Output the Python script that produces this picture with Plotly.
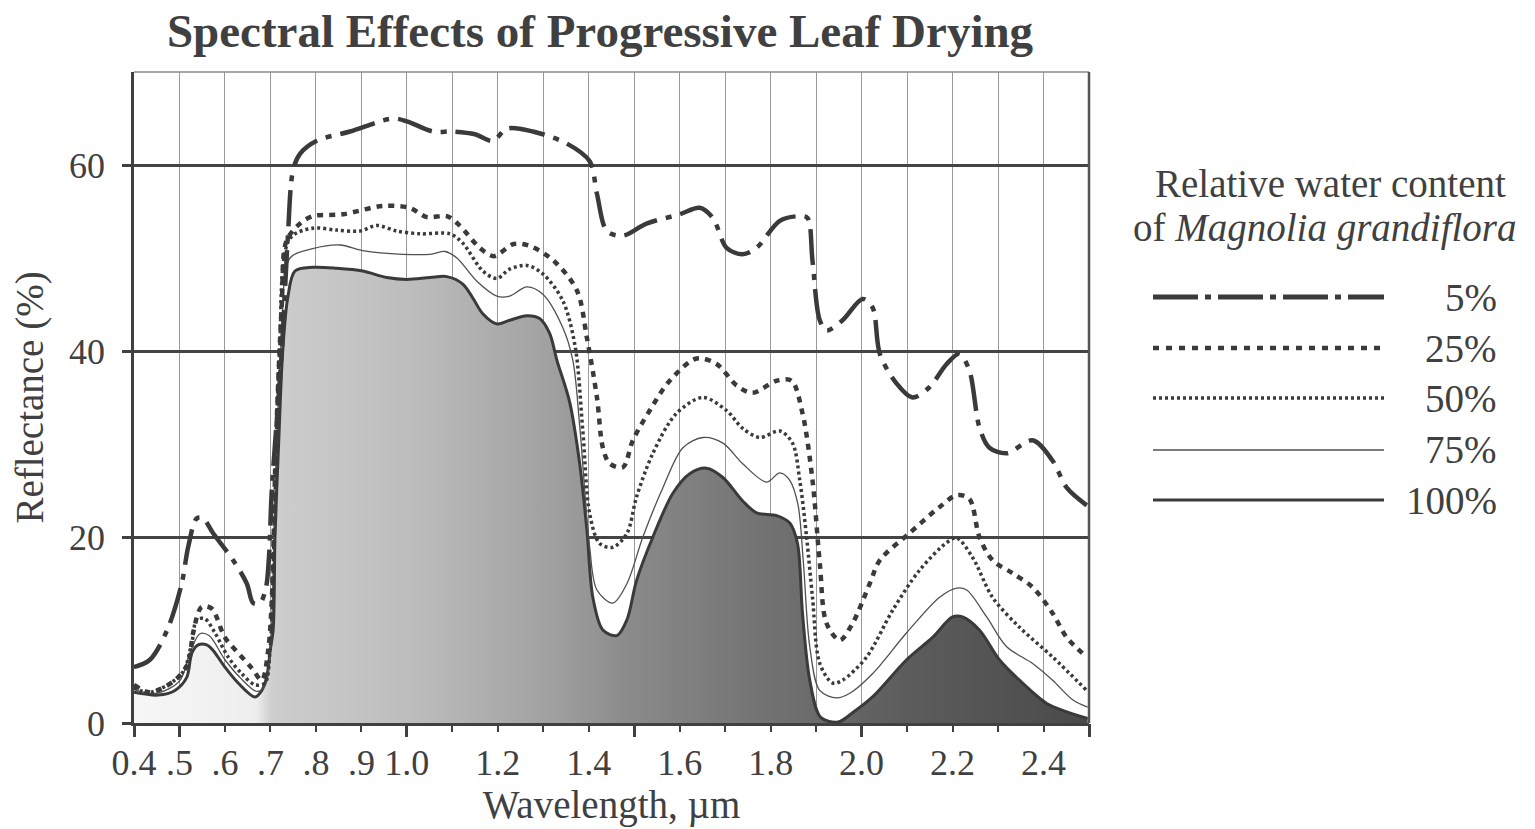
import plotly.graph_objects as go

# ---------------- data ----------------
x5 = [0.400, 0.435, 0.473, 0.505, 0.519, 0.538, 0.552, 0.574, 0.618, 0.648, 0.662, 0.677,
      0.690, 0.697, 0.703, 0.725, 0.738, 0.750, 0.765, 0.802, 0.875, 0.969, 1.000, 1.057,
      1.101, 1.150, 1.189, 1.220, 1.277, 1.352, 1.402, 1.418, 1.440, 1.475, 1.527, 1.600,
      1.644, 1.673, 1.703, 1.738, 1.769, 1.820, 1.864, 1.881, 1.892, 1.908, 1.923, 1.958,
      2.002, 2.024, 2.040, 2.077, 2.112, 2.149, 2.187, 2.215, 2.237, 2.259, 2.281, 2.319,
      2.376, 2.420, 2.451, 2.495]
y5 = [6.0, 6.8, 10.0, 15.0, 18.9, 22.0, 22.0, 20.4, 17.5, 15.0, 12.9, 12.9,
      14.5, 18.0, 25.0, 40.0, 52.0, 59.5, 61.2, 62.6, 63.6, 65.0, 64.7, 63.6,
      63.6, 63.3, 62.6, 63.9, 63.6, 62.3, 60.4, 56.9, 52.9, 52.4, 53.7, 54.7,
      55.4, 54.3, 51.1, 50.4, 51.1, 54.0, 54.5, 54.3, 49.7, 43.3, 42.2, 43.3,
      45.6, 44.7, 39.7, 36.5, 35.0, 36.1, 38.6, 39.7, 37.9, 31.8, 29.6, 29.0,
      30.4, 28.2, 25.3, 23.4]

x25 = [0.400, 0.435, 0.490, 0.519, 0.530, 0.549, 0.571, 0.600, 0.637, 0.659, 0.681, 0.695,
       0.703, 0.712, 0.725, 0.735, 0.765, 0.793, 0.859, 0.947, 1.006, 1.044, 1.088, 1.116,
       1.160, 1.191, 1.235, 1.270, 1.323, 1.374, 1.396, 1.418, 1.431, 1.446, 1.475, 1.497,
       1.534, 1.578, 1.637, 1.681, 1.725, 1.760, 1.813, 1.846, 1.870, 1.892, 1.908, 1.923,
       1.952, 1.980, 2.018, 2.040, 2.105, 2.171, 2.209, 2.237, 2.259, 2.288, 2.332, 2.376,
       2.420, 2.451, 2.495]
y25 = [4.1, 3.3, 4.6, 6.4, 9.7, 12.5, 12.3, 9.2, 7.1, 5.9, 4.6, 7.8,
       13.2, 30.0, 45.0, 51.8, 53.7, 54.5, 54.7, 55.6, 55.4, 54.4, 54.5, 53.5,
       51.1, 50.2, 51.5, 51.3, 49.7, 46.5, 41.4, 35.0, 29.6, 27.9, 27.5, 30.4,
       33.6, 36.8, 39.2, 38.6, 36.3, 35.5, 36.8, 36.8, 33.3, 26.1, 17.2, 10.7,
       8.9, 10.7, 15.0, 17.5, 20.4, 23.2, 24.5, 24.1, 20.0, 17.5, 16.1, 14.6,
       11.8, 9.2, 7.1]

x50 = [0.400, 0.435, 0.505, 0.527, 0.538, 0.556, 0.578, 0.607, 0.637, 0.666, 0.688, 0.699,
       0.708, 0.720, 0.743, 0.793, 0.846, 0.897, 0.934, 0.978, 1.029, 1.095, 1.123, 1.167,
       1.198, 1.226, 1.264, 1.299, 1.343, 1.370, 1.387, 1.402, 1.424, 1.453, 1.484, 1.505,
       1.541, 1.593, 1.651, 1.703, 1.738, 1.776, 1.820, 1.848, 1.864, 1.879, 1.892, 1.908,
       1.936, 1.958, 2.011, 2.068, 2.127, 2.187, 2.209, 2.244, 2.288, 2.347, 2.420, 2.495]
y50 = [3.8, 3.3, 5.3, 8.6, 11.1, 11.2, 9.7, 7.1, 5.3, 4.1, 4.3, 7.8,
       20.0, 40.0, 52.1, 53.2, 53.0, 52.9, 53.5, 52.9, 52.6, 52.6, 51.6, 48.6,
       47.8, 48.8, 49.2, 48.3, 45.4, 40.5, 31.4, 22.5, 19.3, 18.9, 20.4, 24.3,
       29.0, 33.3, 35.0, 33.6, 31.7, 30.7, 31.4, 30.1, 26.1, 20.0, 13.5, 6.4,
       4.3, 4.6, 7.1, 12.1, 16.4, 19.4, 19.9, 17.8, 13.5, 10.3, 7.1, 3.5]

x75 = [0.400, 0.450, 0.500, 0.525, 0.545, 0.565, 0.600, 0.635, 0.670, 0.688, 0.700, 0.710,
       0.725, 0.743, 0.793, 0.853, 0.903, 0.991, 1.051, 1.084, 1.110, 1.154, 1.198, 1.226,
       1.264, 1.299, 1.343, 1.365, 1.380, 1.402, 1.418, 1.453, 1.484, 1.519, 1.563, 1.607,
       1.651, 1.695, 1.738, 1.791, 1.820, 1.842, 1.860, 1.872, 1.886, 1.908, 1.945, 1.974,
       2.024, 2.099, 2.171, 2.209, 2.231, 2.275, 2.319, 2.376, 2.420, 2.464, 2.497]
y75 = [3.6, 3.2, 4.5, 7.8, 9.6, 9.4, 6.8, 4.8, 3.4, 4.0, 8.0, 25.0,
       42.0, 50.0, 51.0, 51.4, 50.8, 50.4, 50.4, 50.7, 50.0, 47.5, 45.9, 45.9,
       46.9, 46.1, 42.5, 39.0, 32.0, 18.9, 14.3, 12.9, 15.0, 20.0, 25.3, 29.6,
       30.7, 30.1, 27.9, 25.9, 26.9, 26.1, 23.5, 17.2, 8.2, 3.5, 2.7, 3.2,
       5.3, 9.7, 13.5, 14.5, 14.3, 11.4, 8.2, 6.4, 4.6, 2.5, 1.7]

x100 = [0.400, 0.453, 0.490, 0.516, 0.527, 0.541, 0.560, 0.574, 0.600, 0.629, 0.666, 0.681,
        0.692, 0.700, 0.706, 0.710, 0.718, 0.727, 0.738, 0.754, 0.793, 0.846, 0.903, 0.956,
        1.000, 1.051, 1.088, 1.123, 1.145, 1.167, 1.198, 1.226, 1.264, 1.292, 1.314, 1.330,
        1.358, 1.380, 1.396, 1.409, 1.431, 1.462, 1.484, 1.505, 1.541, 1.585, 1.622, 1.659,
        1.695, 1.738, 1.769, 1.813, 1.842, 1.859, 1.870, 1.886, 1.910, 1.948, 1.980, 2.024,
        2.099, 2.156, 2.200, 2.222, 2.259, 2.303, 2.347, 2.407, 2.451, 2.497]
y100 = [3.3, 3.0, 3.5, 4.9, 7.5, 8.4, 8.4, 7.8, 6.0, 4.3, 2.8, 3.5,
        5.0, 8.0, 10.0, 20.0, 30.0, 40.0, 45.7, 48.6, 49.0, 48.9, 48.6, 47.9,
        47.7, 47.9, 48.0, 47.2, 45.7, 44.0, 42.9, 43.3, 43.8, 43.5, 41.9, 39.0,
        34.5, 27.9, 20.7, 13.5, 10.0, 9.4, 11.1, 15.3, 20.0, 24.7, 26.8, 27.4,
        26.4, 23.9, 22.6, 22.3, 21.5, 19.3, 11.8, 4.6, 0.6, 0.1, 1.1, 2.8,
        6.8, 9.2, 11.4, 11.4, 10.0, 6.8, 4.6, 2.1, 1.2, 0.5]

series_names = ["5%", "25%", "50%", "75%", "100%"]

x_tickvals = [0.4, 0.5, 0.6, 0.7, 0.8, 0.9, 1.0, 1.1, 1.2, 1.3, 1.4, 1.5, 1.6, 1.7,
              1.8, 1.9, 2.0, 2.1, 2.2, 2.3, 2.4, 2.5]
x_ticktext = ["0.4", ".5", ".6", ".7", ".8", ".9", "1.0", "", "1.2", "", "1.4", "", "1.6", "",
              "1.8", "", "2.0", "", "2.2", "", "2.4", ""]
x_major_ticks = [0.4, 0.5, 1.0, 1.5, 2.0, 2.5]
y_tickvals = [0, 20, 40, 60]

# ---------------- styling ----------------
FONT = "Liberation Serif"
INK = "#404040"
LINE = "#3a3a3a"
SMOOTH = 0.9

fig = go.Figure()

# 100% : filled with a grey gradient
fig.add_trace(go.Scatter(
    x=x100, y=y100, mode="lines", name=series_names[4], fill="tozeroy",
    line=dict(color=LINE, width=3, shape="spline", smoothing=SMOOTH),
    fillgradient=dict(
        type="horizontal", start=0.4, stop=2.5,
        colorscale=[[0.0, "#f6f6f6"], [0.128, "#eeeeee"], [0.145, "#cdcdcd"],
                    [0.29, "#bdbdbd"], [0.43, "#a2a2a2"], [0.52, "#8a8a8a"],
                    [0.67, "#717171"], [0.81, "#5c5c5c"], [1.0, "#4a4a4a"]]),
    showlegend=False, hoverinfo="skip", xaxis="x", yaxis="y"))

line_specs = [
    (x75, y75, series_names[3], dict(color="#505050", width=1.3)),
    (x50, y50, series_names[2], dict(color=LINE, width=3.5, dash="3px,3px")),
    (x25, y25, series_names[1], dict(color=LINE, width=4.5, dash="6px,6px")),
    (x5, y5, series_names[0], dict(color=LINE, width=4.5, dash="36px,9px,6px,9px")),
]
for xs, ys, nm, ln in line_specs:
    ln = dict(ln, shape="spline", smoothing=SMOOTH)
    fig.add_trace(go.Scatter(x=xs, y=ys, mode="lines", name=nm, line=ln,
                             showlegend=False, hoverinfo="skip", xaxis="x2", yaxis="y"))

axis_font = dict(family=FONT, size=36, color=INK)

fig.update_layout(
    width=1535, height=829,
    margin=dict(l=134, r=446, t=72, b=106),
    paper_bgcolor="white", plot_bgcolor="white",
    showlegend=False,
    title=dict(text="<b>Spectral Effects of Progressive Leaf Drying</b>",
               font=dict(family=FONT, size=47, color=INK),
               xref="container", yref="container", x=600 / 1535, xanchor="center",
               y=1 - 31 / 829, yanchor="middle"),
    xaxis=dict(range=[0.4, 2.5], tickmode="array", tickvals=x_tickvals, ticktext=x_ticktext,
               ticks="outside", ticklen=6, tickwidth=2, tickcolor=INK,
               tickfont=axis_font, showgrid=True, gridcolor="#9a9a9a", gridwidth=1,
               zeroline=False, showline=True, linecolor=INK, linewidth=2.5,
               automargin=False,
               title=dict(text="Wavelength, µm", font=dict(family=FONT, size=39, color=INK),
                          standoff=8)),
    xaxis2=dict(range=[0.4, 2.5], overlaying="x", anchor="y", side="bottom",
                tickmode="array", tickvals=x_major_ticks, ticks="outside", ticklen=13,
                tickwidth=2.5, tickcolor=INK, showticklabels=False, showgrid=False,
                zeroline=False, showline=False, automargin=False),
    yaxis=dict(range=[0, 70], tickmode="array", tickvals=y_tickvals,
               ticks="outside", ticklen=9, tickwidth=2.5, tickcolor=INK,
               tickfont=axis_font, ticklabelstandoff=10,
               showgrid=True, gridcolor="#444444", gridwidth=2.5,
               zeroline=False, showline=True, linecolor=INK, linewidth=2.5,
               automargin=False,
               title=dict(text="Reflectance (%)", font=dict(family=FONT, size=39, color=INK),
                          standoff=14)),
)

# frame: thin top border, darker right border
fig.add_shape(type="line", xref="paper", yref="paper", x0=0, x1=1, y0=1, y1=1,
              line=dict(color="#8a8a8a", width=1.5))
fig.add_shape(type="line", xref="paper", yref="paper", x0=1, x1=1, y0=0, y1=1,
              line=dict(color="#555555", width=2.5))

# ---------------- hand-drawn style legend ----------------
def px_x(px):
    return (px - 134) / 955.0

def px_y(py):
    return (723 - py) / 651.0

fig.add_annotation(text="Relative water content", xref="paper", yref="paper",
                   x=px_x(1330), y=px_y(183), xanchor="center", yanchor="middle",
                   showarrow=False, font=dict(family=FONT, size=39, color=INK))
fig.add_annotation(text="of <i>Magnolia grandiflora</i>", xref="paper", yref="paper",
                   x=px_x(1325), y=px_y(228), xanchor="center", yanchor="middle",
                   showarrow=False, font=dict(family=FONT, size=39, color=INK))

legend_rows = [297, 348, 398, 450, 500]
legend_styles = [
    dict(color=LINE, width=5, dash="45px,7px,6px,7px"),
    dict(color=LINE, width=4.5, dash="6px,7px"),
    dict(color=LINE, width=3.5, dash="3px,3px"),
    dict(color="#505050", width=1.4),
    dict(color=LINE, width=3),
]
for nm, ry, st in zip(series_names, legend_rows, legend_styles):
    fig.add_shape(type="line", xref="paper", yref="paper",
                  x0=px_x(1153), x1=px_x(1384), y0=px_y(ry), y1=px_y(ry), line=st)
    fig.add_annotation(text=nm, xref="paper", yref="paper", x=px_x(1499), y=px_y(ry),
                       xanchor="right", yanchor="middle", showarrow=False,
                       font=dict(family=FONT, size=39, color=INK))

fig.write_html("out.html")
